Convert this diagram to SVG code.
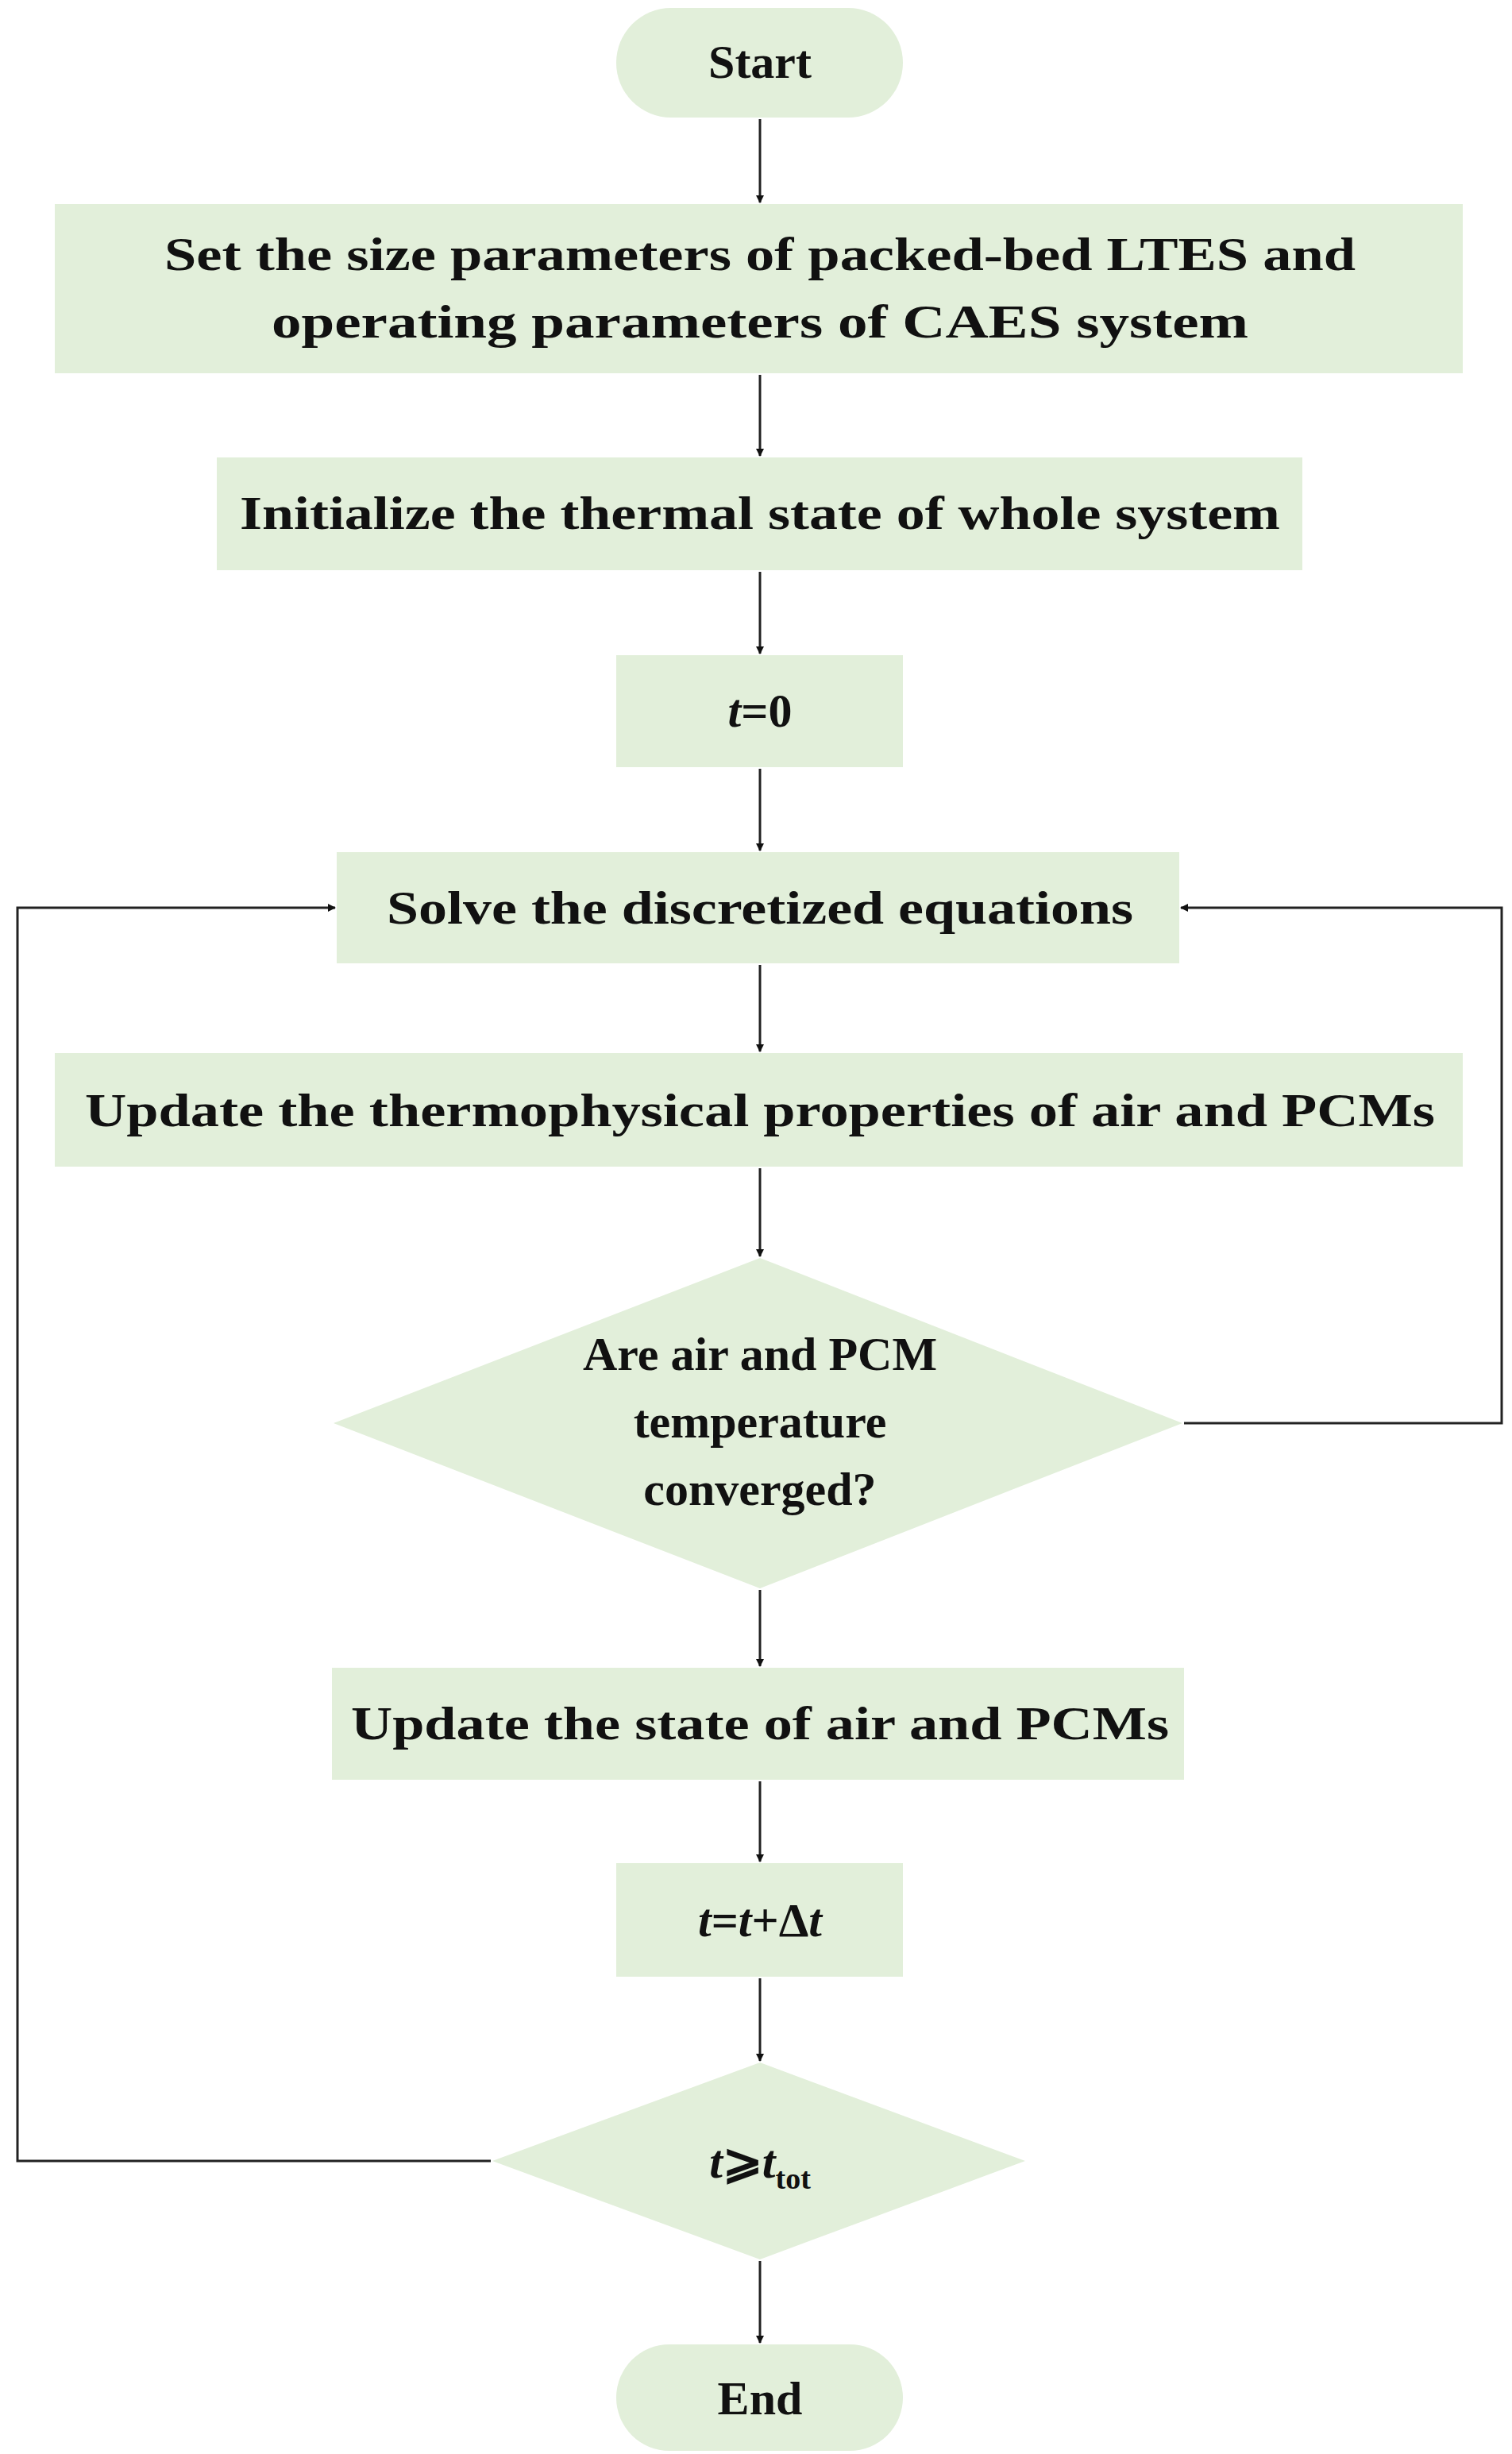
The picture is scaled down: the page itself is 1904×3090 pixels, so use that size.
<svg xmlns="http://www.w3.org/2000/svg" width="1904" height="3090" viewBox="0 0 1904 3090">
<style>
.n{fill:#e2efda;stroke:none}
.t{font-family:"Liberation Serif",serif;font-weight:bold;font-size:60px;fill:#111;text-anchor:middle}
.c{stroke:#222;stroke-width:3;fill:none}
</style>
<defs><marker id="a" markerWidth="10" markerHeight="10" refX="9" refY="5" orient="auto" markerUnits="userSpaceOnUse" viewBox="0 0 10 10"><path d="M0,0 L10,5 L0,10 z" fill="#111"/></marker></defs>
<rect width="1904" height="3090" fill="#fff"/>
<g id="start"><rect class="n" x="776" y="10" width="361" height="138" rx="69"/><text class="t" x="957" y="98">Start</text></g>
<g id="setparams"><rect class="n" x="69" y="257" width="1773" height="213"/><text class="t" x="957" y="340" textLength="1500" lengthAdjust="spacingAndGlyphs">Set the size parameters of packed-bed LTES and</text><text class="t" x="957" y="425" textLength="1230" lengthAdjust="spacingAndGlyphs">operating parameters of CAES system</text></g>
<g id="init"><rect class="n" x="273" y="576" width="1367" height="142"/><text class="t" x="957" y="666" textLength="1310" lengthAdjust="spacingAndGlyphs">Initialize the thermal state of whole system</text></g>
<g id="t0"><rect class="n" x="776" y="825" width="361" height="141"/><text class="t" x="957" y="915"><tspan font-style="italic">t</tspan>=0</text></g>
<g id="solve"><rect class="n" x="424" y="1073" width="1061" height="140"/><text class="t" x="957" y="1163" textLength="940" lengthAdjust="spacingAndGlyphs">Solve the discretized equations</text></g>
<g id="updprops"><rect class="n" x="69" y="1326" width="1773" height="143"/><text class="t" x="957" y="1418" textLength="1700" lengthAdjust="spacingAndGlyphs">Update the thermophysical properties of air and PCMs</text></g>
<g id="conv"><polygon class="n" points="957,1584 1489,1792 957,2000 420,1792"/><text class="t" x="957" y="1725">Are air and PCM</text><text class="t" x="957" y="1810">temperature</text><text class="t" x="957" y="1895">converged?</text></g>
<g id="updstate"><rect class="n" x="418" y="2100" width="1073" height="141"/><text class="t" x="957" y="2190" textLength="1030" lengthAdjust="spacingAndGlyphs">Update the state of air and PCMs</text></g>
<g id="tinc"><rect class="n" x="776" y="2346" width="361" height="143"/><text class="t" x="957" y="2438"><tspan font-style="italic">t</tspan>=<tspan font-style="italic">t</tspan>+Δ<tspan font-style="italic">t</tspan></text></g>
<g id="tend"><polygon class="n" points="957,2597 1291,2721 957,2845 620,2721"/><text class="t" x="957" y="2742"><tspan font-style="italic">t</tspan>⩾<tspan font-style="italic">t</tspan><tspan font-size="38" dy="14">tot</tspan></text></g>
<g id="end"><rect class="n" x="776" y="2952" width="361" height="134" rx="67"/><text class="t" x="957" y="3040">End</text></g>
<g id="connectors">
<line class="c" x1="957" y1="150" x2="957" y2="255" marker-end="url(#a)"/>
<line class="c" x1="957" y1="472" x2="957" y2="574" marker-end="url(#a)"/>
<line class="c" x1="957" y1="720" x2="957" y2="823" marker-end="url(#a)"/>
<line class="c" x1="957" y1="968" x2="957" y2="1071" marker-end="url(#a)"/>
<line class="c" x1="957" y1="1215" x2="957" y2="1324" marker-end="url(#a)"/>
<line class="c" x1="957" y1="1471" x2="957" y2="1582" marker-end="url(#a)"/>
<line class="c" x1="957" y1="2002" x2="957" y2="2098" marker-end="url(#a)"/>
<line class="c" x1="957" y1="2243" x2="957" y2="2344" marker-end="url(#a)"/>
<line class="c" x1="957" y1="2491" x2="957" y2="2595" marker-end="url(#a)"/>
<line class="c" x1="957" y1="2847" x2="957" y2="2950" marker-end="url(#a)"/>
<polyline class="c" points="1491,1792 1891,1792 1891,1143 1487,1143" marker-end="url(#a)"/>
<polyline class="c" points="618,2721 22,2721 22,1143 422,1143" marker-end="url(#a)"/>
</g>
</svg>
